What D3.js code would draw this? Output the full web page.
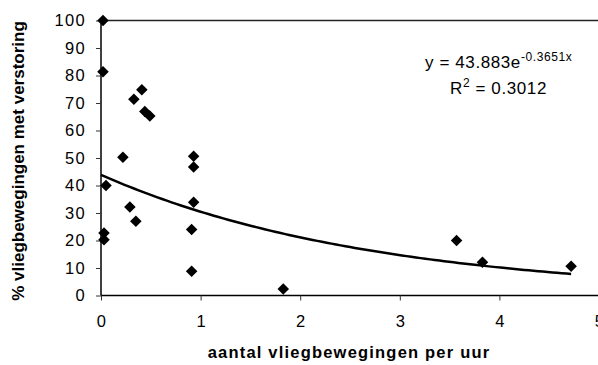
<!DOCTYPE html>
<html>
<head>
<meta charset="utf-8">
<script src="https://cdn.jsdelivr.net/npm/d3@7"></script>
<style>
  body { margin: 0; background: #fff; }
  text { font-family: Arial, "Liberation Sans", sans-serif; fill: #000; }
</style>
</head>
<body>
<div id="chart-div"></div>
<script>
var props = {
  width: 598,
  height: 365,
  marginTop: 20.5,
  marginLeft: 101,
  plotRight: 598,
  plotBottom: 295.5
}

// aantal vliegbewegingen per uur
var xValues = [0.02, 0.02, 0.33, 0.41, 0.44, 0.49, 0.22, 0.93, 0.93, 0.05, 0.29, 0.35, 0.03, 0.03, 0.93, 0.91, 0.91, 1.83, 3.57, 3.83, 4.72];
// % vliegbewegingen met verstoring
var yValues = [100, 81.4, 71.4, 74.8, 66.9, 65.3, 50.3, 50.6, 46.7, 40, 32.2, 27, 22.7, 20.3, 33.9, 24, 8.8, 2.4, 20, 12.1, 10.6];
var xTicks = [0, 1, 2, 3, 4, 5];
var yTicks = [0, 10, 20, 30, 40, 50, 60, 70, 80, 90, 100];
// trendlijn y = a * e^(b x)
var trendA = 43.883;
var trendB = -0.3651;
var trendR2 = 0.3012;

var svg = d3.select("#chart-div").append("svg").attr("width", props.width).attr("height", props.height);

var xScale = d3.scaleLinear().domain([0, 5]).range([props.marginLeft, props.marginLeft + 5 * 99.6]);
var yScale = d3.scaleLinear().domain([0, 100]).range([props.plotBottom, props.marginTop]);

// top border line at 100
svg.append("line")
  .attr("x1", xScale(0)).attr("x2", props.plotRight)
  .attr("y1", yScale(100)).attr("y2", yScale(100))
  .style("stroke", "#222").style("stroke-width", "1.5");

var xAxis = svg.append("g").attr("transform", "translate(0," + props.plotBottom + ")")
  .call(d3.axisBottom(xScale).tickValues(xTicks).tickSize(5).tickPadding(15).tickFormat(d3.format("d")));
xAxis.select(".domain").attr("d", "M" + xScale(0) + ",0H" + props.plotRight).style("stroke-width", "1.5");

var yAxis = svg.append("g").attr("transform", "translate(" + props.marginLeft + ",0)")
  .call(d3.axisLeft(yScale).tickValues(yTicks).tickSize(5).tickPadding(10).tickFormat(d3.format("d")));
yAxis.select(".domain").attr("d", "M0," + yScale(0) + "V" + yScale(100)).style("stroke-width", "1.5");

svg.selectAll(".tick text").style("font-size", "16.5px").style("letter-spacing", "1.3px");
xAxis.selectAll(".tick text").attr("dx", "0.6px");
svg.selectAll(".tick line").style("stroke", "#333");

// trendline
var xMax = d3.max(xValues);
var trendData = d3.range(0, 101).map(function(i){ var x = xMax * i / 100; return {x: x, y: trendA * Math.exp(trendB * x)}; });
var lineGenerator = d3.line().x(function(d){return xScale(d.x)}).y(function(d){return yScale(d.y)});
svg.append("path")
  .attr("d", lineGenerator(trendData))
  .style("fill", "none")
  .style("stroke", "#000")
  .style("stroke-width", "2.5");

// points
var points = xValues.map(function(x, i){ return {x: x, y: yValues[i]}; });
svg.selectAll(".point")
  .data(points)
  .enter()
  .append("path")
  .attr("class", "point")
  .attr("d", d3.symbol().type(d3.symbolDiamond2).size(85))
  .attr("transform", function(d){ return "translate(" + xScale(d.x) + "," + yScale(d.y) + ")"; })
  .style("fill", "#000");

// equation
var eq = svg.append("text").attr("x", 425).attr("y", 68).style("font-size", "17px").style("letter-spacing", "0.6px");
eq.append("tspan").text("y = " + trendA + "e");
eq.append("tspan").attr("dy", -7).style("font-size", "12px").text(trendB + "x");
var r2 = svg.append("text").attr("x", 450).attr("y", 94).style("font-size", "17px").style("letter-spacing", "0.6px");
r2.append("tspan").text("R");
r2.append("tspan").attr("dy", -7).style("font-size", "12px").text("2");
r2.append("tspan").attr("dy", 7).text(" = " + trendR2);

// axis titles
svg.append("text")
  .attr("text-anchor", "middle")
  .attr("x", 349).attr("y", 358)
  .style("font-size", "16.5px").style("font-weight", "bold").style("letter-spacing", "1.2px")
  .text("aantal vliegbewegingen per uur");

svg.append("text")
  .attr("text-anchor", "middle")
  .attr("transform", "translate(24,161) rotate(-90)")
  .style("font-size", "17px").style("font-weight", "bold")
  .text("% vliegbewegingen met verstoring");
</script>
</body>
</html>
